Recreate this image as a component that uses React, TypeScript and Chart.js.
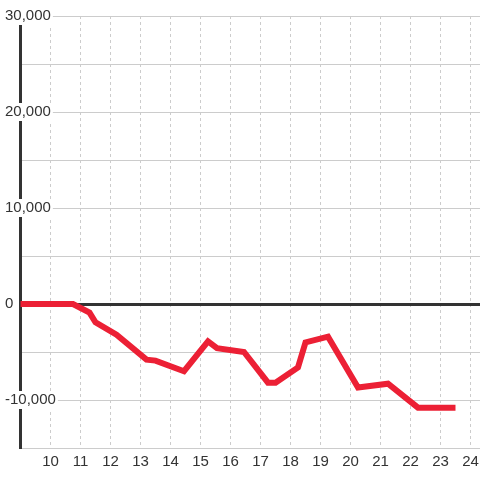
import React, { useEffect, useRef } from "react";
import { Chart, registerables } from "chart.js";

Chart.register(...registerables);

// Series: x position (day) and value
const seriesX = [8.5, 10.75, 11.3, 11.5, 12.2, 13.2, 13.5, 14.45, 15.25, 15.55, 16.45, 17.25, 17.5, 18.25, 18.5, 19.25, 20.25, 21.25, 22.25, 23.5];
const seriesY = [0, 0, -900, -1900, -3200, -5800, -5900, -7000, -3900, -4600, -5000, -8200, -8200, -6600, -4000, -3400, -8700, -8300, -10800, -10800];

const xTicks = [9, 10, 11, 12, 13, 14, 15, 16, 17, 18, 19, 20, 21, 22, 23, 24];
const xLabeled = [10, 11, 12, 13, 14, 15, 16, 17, 18, 19, 20, 21, 22, 23, 24];
const yTicks = [-15000, -10000, -5000, 0, 5000, 10000, 15000, 20000, 25000, 30000];
const yLabeled = [-10000, 0, 10000, 20000, 30000];

const FONT = "'Liberation Sans', Arial, Helvetica, sans-serif";

export default function App() {
  const ref = useRef<HTMLCanvasElement>(null);
  useEffect(() => {
    const canvas = ref.current;
    if (!canvas) return;
    const chart = new Chart(canvas, {
      type: "line",
      data: {
        datasets: [
          {
            data: seriesX.map((x, i) => ({ x, y: seriesY[i] })),
            borderColor: "#EC2035",
            borderWidth: 6,
            pointRadius: 0,
            fill: false,
            tension: 0,
          },
        ],
      },
      options: {
        animation: false,
        responsive: false,
        events: [],
        layout: { padding: { left: 20.5, top: 16, right: 0, bottom: 0 } },
        plugins: { legend: { display: false }, tooltip: { enabled: false } },
        scales: {
          x: {
            type: "linear",
            min: 9,
            max: 24.3167,
            afterBuildTicks: (scale: any) => {
              scale.ticks = xTicks.map((v) => ({ value: v }));
            },
            afterFit: (scale: any) => {
              scale.height = 32;
              scale.paddingLeft = 0;
              scale.paddingRight = 0;
            },
            ticks: {
              padding: 5,
              color: "#333",
              font: { family: FONT, size: 15 },
              maxRotation: 0,
              autoSkip: false,
              callback: (v: any) => (xLabeled.includes(Number(v)) ? String(v) : ""),
            },
            grid: { color: "#cccccc", lineWidth: 1, drawTicks: false },
            border: { display: false, dash: [3, 3] },
          },
          y: {
            type: "linear",
            min: -15000,
            max: 30000,
            afterBuildTicks: (scale: any) => {
              scale.ticks = yTicks.map((v) => ({ value: v }));
            },
            afterFit: (scale: any) => {
              scale.width = 0;
              scale.paddingTop = 0;
              scale.paddingBottom = 0;
            },
            ticks: {
              mirror: true,
              padding: -15.5,
              crossAlign: "near",
              color: "#333",
              font: { family: FONT, size: 15 },
              showLabelBackdrop: (ctx: any) => !!(ctx.tick && ctx.tick.label),
              backdropColor: "#ffffff",
              backdropPadding: { left: 2, right: 2, top: 0, bottom: 0 },
              callback: (v: any) =>
                yLabeled.includes(Number(v)) ? Number(v).toLocaleString("en-US") : "",
            },
            grid: {
              drawTicks: false,
              color: (ctx: any) => (ctx.tick && ctx.tick.value === 0 ? "#333333" : "#cccccc"),
              lineWidth: (ctx: any) => (ctx.tick && ctx.tick.value === 0 ? 3 : 1),
            },
            border: { display: true, color: "#333333", width: 3 },
          },
        },
      },
    });
    return () => chart.destroy();
  }, []);
  return (
    <div style={{ position: "fixed", left: 0, top: 0, width: 480, height: 480, background: "#fff" }}>
      <canvas ref={ref} width={480} height={480} style={{ display: "block" }} />
    </div>
  );
}
